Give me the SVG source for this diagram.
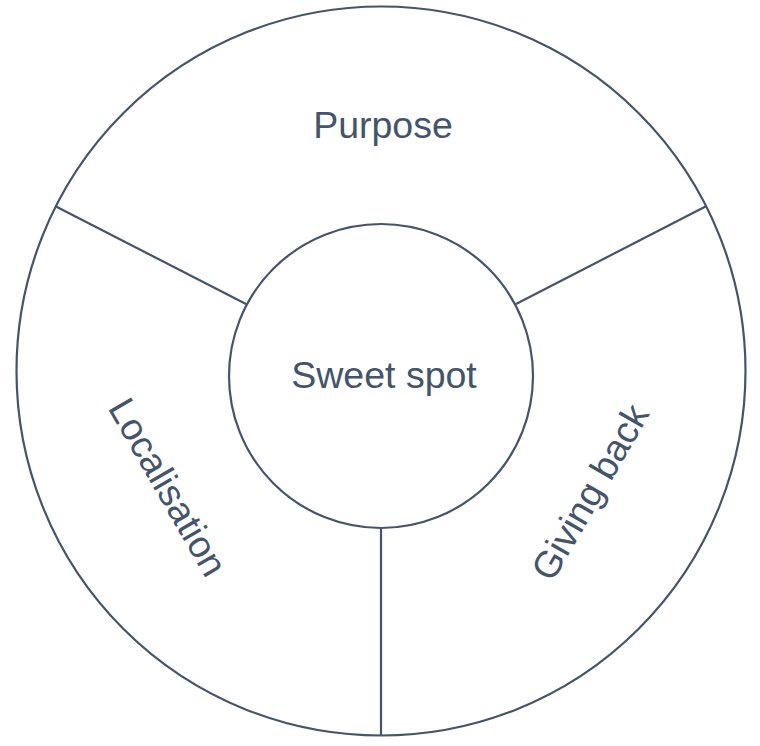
<svg xmlns="http://www.w3.org/2000/svg" width="760" height="746" viewBox="0 0 760 746">
<style>
.s{fill:none;stroke:#44546A;stroke-width:2.2}
.t{font-family:"Liberation Sans",Arial,sans-serif;font-size:37.5px;fill:#44546A;text-anchor:middle}
</style>
<rect width="760" height="746" fill="#ffffff"/>
<g id="outer"><circle class="s" cx="381" cy="371" r="364.5"/></g>
<g id="connectors">
<line class="s" x1="56" y1="206.5" x2="246" y2="304"/>
<line class="s" x1="706.5" y1="206" x2="516" y2="304"/>
<line class="s" x1="381" y1="528" x2="381" y2="735.5"/>
</g>
<g id="purpose"><text class="t" x="383" y="138">Purpose</text></g>
<g id="localisation"><text class="t" transform="translate(168,487) rotate(60)" x="0" y="13">Localisation</text></g>
<g id="giving-back"><text class="t" transform="translate(590,492) rotate(-60)" x="0" y="13">Giving back</text></g>
<g id="sweet-spot"><circle class="s" cx="381" cy="376" r="152"/><text class="t" x="384" y="388">Sweet spot</text></g>
</svg>
